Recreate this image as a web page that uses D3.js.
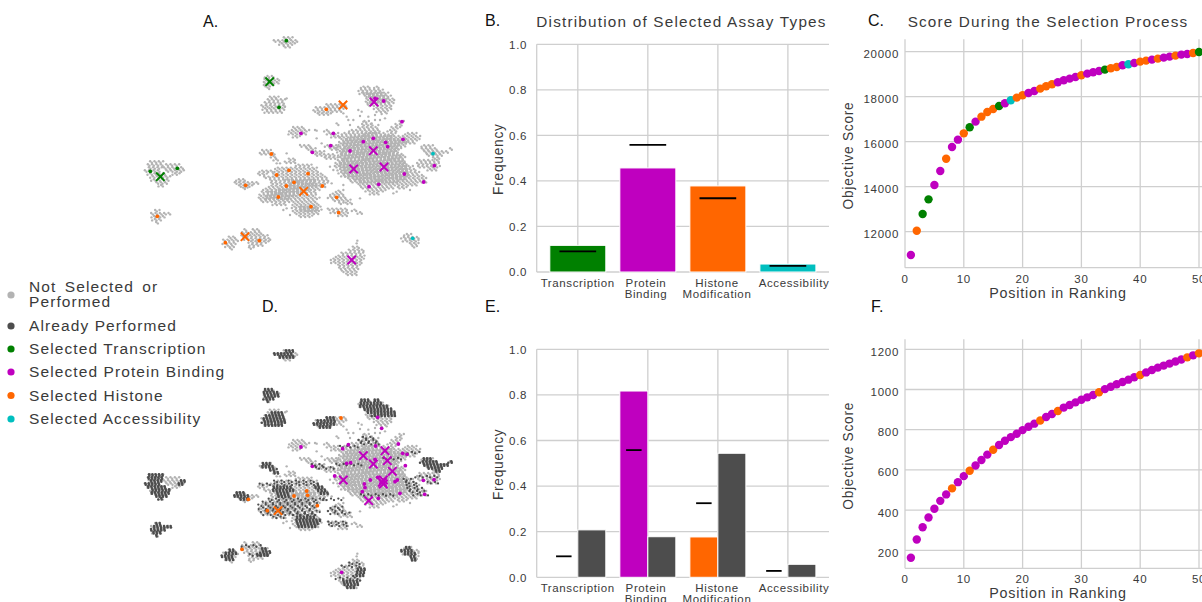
<!DOCTYPE html>
<html><head><meta charset="utf-8">
<script src="https://cdnjs.cloudflare.com/ajax/libs/d3/7.8.5/d3.min.js"></script>
<style>
html,body{margin:0;padding:0;background:#fff;overflow:hidden}
svg{display:block}
text{font-family:"Liberation Sans",Arial,sans-serif;fill:#3a3a3a}
</style></head><body>
<script>
// ---- bars ----
const categories = ["Transcription","Protein|Binding","Histone|Modification","Accessibility"];
const selectedB = [0.117,0.457,0.378,0.035];
const backgroundFreq = [0.091,0.558,0.324,0.027];
const selectedE = [0,0.817,0.177,0];
const performedE = [0.208,0.178,0.544,0.057];
const backgroundFreqE = [0.092,0.558,0.325,0.028];
// ---- score curves ----
const scoreC = [10963,12044,12785,13437,14074,14696,15244,15763,16089,16370,16637,16889,17111,17319,17452,17585,17704,17837,17956,18059,18163,18252,18356,18459,18548,18637,18726,18800,18874,18948,19022,19081,19141,19200,19259,19319,19393,19437,19496,19556,19600,19644,19689,19733,19778,19822,19867,19896,19941,19985];
const typeC = "PHTTPPHPPHTPHHHTPAHHPPHHHPPPPHPPPTHHPAPHHPHPPHPPHT".split("");
const scoreF = [163,254,315,363,407,446,478,508,539,569,596,622,649,676,700,724,745,763,780,798,815,830,846,863,878,893,910,923,936,949,961,973,986,1002,1014,1026,1037,1049,1061,1072,1085,1097,1109,1119,1129,1139,1149,1160,1170,1180];
const typeF = "PPPPPPPHPPHPPPHPPPPPPPHPPHPPPPPPHPPPPPPHPPPPPPPHPH".split("");
// ---- legend ----
const legendLabels = [["Not Selected or","Performed"],["Already Performed"],["Selected Transcription"],["Selected Protein Binding"],["Selected Histone"],["Selected Accessibility"]];
const typeColor = {G:"#b3b3b3",D:"#4d4d4d",T:"#008000",P:"#bf00bf",H:"#ff6600",A:"#00bfbf"};
const legendKeys = ["G","D","T","P","H","A"];
// ---- embedding: the clouds were read off the picture as horizontal spans,
// [row, from, to, from, to ...] in embedding units; dots mark the covered area.
const cloudRows = [
[84,465,490],[93,437,505],[102,450,498],[110,465,480],
[200,410,430],[209,403,447],[218,403,445],[227,405,430],[235,412,420],
[262,425,445],[270,415,465],[279,408,465],[288,400,465],[297,400,465],[306,408,460],
[285,590,650],[294,560,650],[303,555,640],[312,570,605],
[232,695,720,735,745],[241,690,760],[250,695,775],[259,705,785],[268,712,795],[277,712,795],[286,720,790],[295,735,785],[304,745,775],
[335,705,720,810,825],[344,700,730,800,815],[353,690,745,790,810],[362,660,750,775,805],[371,640,770,780,800,830,860],[380,635,870],[389,635,870],[398,630,860],[407,630,830],[416,625,815],[425,625,810],[434,630,820],[443,630,825],[452,625,830],[461,620,835],[470,620,850],[479,625,860],[488,630,870],[497,640,880],[506,655,890],[515,665,895],[524,690,860],[533,700,790,810,830],[542,710,770],[551,725,750],
[408,880,910],[417,875,925,960,970],[426,885,955],[435,895,940],[444,915,930],
[452,870,925],[461,865,930],[470,870,930],[479,895,925],
[353,495,525],[362,480,540],[371,480,530],[380,495,510],
[362,585,600],[371,595,625],[380,610,630],
[408,520,545,590,625],[417,530,560,600,625],[426,545,585],[435,560,620],[444,590,625],
[422,400,425],[431,395,435],[440,425,440],[449,435,445],
[448,480,495],[457,470,500],[466,500,545],[475,440,560],[484,395,430,440,570],[493,385,410,430,580],[502,405,590],[511,425,595],[520,430,595],[529,420,585],[538,405,570],[547,395,560],[556,390,560],[565,390,570],[574,400,560],[583,430,470,490,570],[592,490,575],[601,495,575],[610,495,570],[619,510,550],
[544,620,635],[553,605,645],[562,600,650],[571,610,665],[580,630,640,650,665],[598,600,650],[607,605,655],[616,630,655],
[601,672,685],[609,685,698],
[510,325,345],[519,315,385],[528,330,370],[535,345,355],
[456,60,100],[465,55,100,110,150],[474,60,95,105,165],[483,50,90,115,165],[492,55,110,130,150],[501,65,120],[510,70,120],[519,80,110],[527,90,100],
[602,80,90],[611,70,125],[620,68,110],[629,72,95],[638,78,85],
[682,300,315],[691,285,325],[700,280,320],[709,290,315],[716,300,308],
[660,345,355,370,390],[669,340,400],[678,340,415],[687,345,422],[696,360,415],[705,365,400],[714,358,370],
[674,825,845],[683,818,868],[692,825,868],[701,840,865],[710,850,862],
[712,670,690],[721,660,700],[730,640,700],[739,620,705],[748,607,705],[757,610,700],[766,625,690],[775,630,690],[784,640,685],[793,655,680]
];
// the dense middle of the main cloud
const coreRows = [
[371,700,740],[380,660,790],[389,650,830],[398,645,830],[407,645,810],[416,640,805],[425,640,800],[434,640,810],[443,640,815],[452,640,820],[461,635,825],[470,635,835],[479,640,835],[488,645,840],[497,660,840],[506,675,830],[515,690,810],
[268,725,775],[277,725,775],[259,715,770],[250,705,755],
[511,470,560],[520,480,560],[529,470,560],[538,450,540],[547,420,520],[556,410,500],[565,410,480],[592,510,560],[601,515,560]
];
const cloudStrays = [[560,362],[640,310],[650,320],[655,330],[625,345],[620,340],[685,300],[695,305],[715,320],[735,315],[750,330],[765,325],[770,310],[745,345],[725,340],[640,525],[640,540],[645,500],[610,480],[605,520],[600,470],[690,565],[790,550],[800,545],[840,540],[470,265],[465,290],[682,692],[560,600],[470,595],[460,600],[480,615],[555,360],[560,385],[575,400],[510,405],[470,430],[450,460],[440,460],[680,700],[660,345],[670,330],[690,318],[700,335],[755,312],[735,330]];
const performedRows = [
[84,465,490],[93,437,490],[102,450,490],
[200,410,430],[209,403,447],[218,403,445],[227,405,430],[235,412,420],
[270,430,460],[279,410,465],[288,400,465],[297,400,465],[306,408,460],
[285,590,615],[294,560,620],[303,555,615],[312,570,605],
[232,695,720,735,745],[241,690,760],[250,695,775],[259,705,785],[268,712,795],[277,730,795],
[456,60,100],[465,55,100],[474,60,95,150,165],[483,50,90,150,165],[492,55,110],[501,65,120],[510,70,120],[519,80,110],[527,90,100],
[602,80,90],[611,70,125],[620,68,110],[629,72,95],[638,78,85],
[682,300,315],[691,285,325],[700,280,310],[709,290,315],[678,395,415],[687,395,422],[696,385,415],
[674,825,845],[683,818,850],[692,825,855],[701,840,860],[710,850,862],
[739,685,705],[748,680,705],[757,675,700],[775,640,690],[784,640,685],[793,655,680],
[408,880,910],[417,875,925,960,970],[426,885,955],[435,895,940],[444,915,930],
[510,325,345],[519,315,360],[528,330,360],
[422,400,425],[431,395,435],[440,425,440],[449,435,445],
[583,505,560],[592,500,575],[601,500,570],[610,510,560],
[484,560,570],[493,560,580],[502,565,590],[511,570,595],
[493,435,490],[502,430,490],[511,440,480],[520,450,480]
];
const performedSpeckle = [
[475,440,560],[484,400,560],[529,420,585],[538,405,570],[547,395,560],[556,390,560],[565,400,570],[574,410,560],
[553,605,645],[562,600,650],[571,610,665],[598,600,650],[607,605,655],
[470,820,850],[479,830,860],[488,835,870],[497,840,880],[506,850,890],[515,855,895],
[344,700,730],[353,690,745],[362,700,750],[426,545,585],[435,560,620],[371,640,690],[389,840,870],[461,865,930],[479,895,925],[721,660,700],[730,640,700],[766,625,690],[696,360,415],[669,340,400],[583,430,470],[574,500,560],[529,585,640],[425,625,700],[516,700,790],[407,760,825]
];
// ---- picks: [u, v, type]
const picksA = [[469,92,"T"],[447,292,"T"],[61,484,"T"],[142,475,"T"],
[589,298,"H"],[424,432,"H"],[477,481,"H"],[534,491,"H"],[440,495,"H"],[492,517,"H"],[469,528,"H"],[577,528,"H"],[347,526,"H"],[445,561,"H"],[620,562,"H"],[543,590,"H"],[626,608,"H"],[82,619,"H"],[286,698,"H"],[388,692,"H"],
[761,273,"P"],[735,265,"P"],[816,335,"P"],[610,370,"P"],[513,370,"P"],[730,385,"P"],[700,395,"P"],[767,397,"P"],[819,388,"P"],[602,407,"P"],[773,410,"P"],[660,423,"P"],[547,427,"P"],[913,467,"P"],[823,492,"P"],[881,516,"P"],[746,523,"P"],[717,530,"P"],
[909,431,"A"],[848,685,"A"]];
const crossesA = [[419,215,"T"],[91,500,"T"],[639,285,"H"],[521,544,"H"],[345,680,"H"],[732,276,"P"],[730,422,"P"],[671,477,"P"],[762,471,"P"],[665,750,"P"]];
const picksD = [[633,285,"H"],[355,529,"H"],[412,563,"H"],[492,519,"H"],[530,504,"H"],[533,517,"H"],[562,548,"H"],[336,679,"H"],
[743,283,"P"],[755,316,"P"],[513,372,"P"],[547,430,"P"],[655,365,"P"],[638,377,"P"],[737,369,"P"],[805,363,"P"],[818,391,"P"],[831,394,"P"],[650,421,"P"],[662,419,"P"],[735,409,"P"],[826,428,"P"],[614,459,"P"],[721,471,"P"],[743,463,"P"],[703,483,"P"],[697,506,"P"],[705,494,"P"],[795,476,"P"],[802,471,"P"],[880,472,"P"],[912,470,"P"],[810,511,"P"],[884,514,"P"],[745,526,"P"],[635,748,"P"]];
const crossesD = [[444,563,"H"],[700,398,"P"],[765,383,"P"],[772,413,"P"],[730,423,"P"],[787,445,"P"],[640,471,"P"],[760,471,"P"],[760,483,"P"],[757,478,"P"],[716,533,"P"]];
const panelLetters = [["A.",203,27],["B.",485,26],["C.",868,26],["D.",262,312],["E.",485,312],["F.",871,312]];

const svg = d3.select("body").append("svg").attr("width",1202).attr("height",602);
svg.append("defs").append("filter").attr("id","soft").attr("x","-5%").attr("y","-5%").attr("width","110%").attr("height","110%")
  .append("feGaussianBlur").attr("stdDeviation",0.3);
const GRID="#cfcfcf";

// each read span is covered by two staggered dot rows
const spread=(rows,step)=>{const out=[];rows.forEach(r=>{[-2.2,2.2].forEach(dv=>{const v=r[0]+dv;
  const off=((r[0]*7+(dv>0?31:0))%step);
  for(let k=1;k<r.length;k+=2){
    for(const u of d3.range(r[k]+off-step/2,r[k+1]+1,step)) out.push([u,v]);}});});return out;};

function embedding(yRange,picks,crosses,showPerformed){
  const x=d3.scaleLinear().domain([0,1020]).range([130,470]);
  const y=d3.scaleLinear().domain([0,840]).range(yRange);
  const g=svg.append("g");
  const cloud=g.append("g").attr("filter","url(#soft)");
  const dots=(data,fill,r)=>cloud.append("g").selectAll("circle").data(data).join("circle")
    .attr("cx",d=>x(d[0])).attr("cy",d=>y(d[1])).attr("r",r).attr("fill",fill);
  dots(spread(cloudRows,13).concat(spread(coreRows,11)).concat(cloudStrays),typeColor.G,1.2);
  if(showPerformed){
    dots(spread(performedRows,10),typeColor.D,1.25);
    dots(spread(performedSpeckle,22),typeColor.D,1.15);
  }
  g.append("g").selectAll("circle").data(picks).join("circle")
    .attr("cx",d=>x(d[0])).attr("cy",d=>y(d[1])).attr("r",1.9).attr("fill",d=>typeColor[d[2]]);
  g.append("g").selectAll("path").data(crosses).join("path")
    .attr("d",d3.symbol(d3.symbolX,48)).attr("transform",d=>`translate(${x(d[0])},${y(d[1])})`)
    .attr("fill","none").attr("stroke",d=>typeColor[d[2]]).attr("stroke-width",2);
}
embedding([10,290],picksA,crossesA,false);
embedding([323,603],picksD,crossesD,true);

const labelX = [577.7,646,717,794];
function barPanel(yr,series){
  const x=d3.scaleLinear().domain([-0.587,3.587]).range([536.7,829]);
  const y=d3.scaleLinear().domain([0,1]).range(yr);
  const g=svg.append("g");
  const L=x.range();
  const t=[0,.2,.4,.6,.8,1];
  g.selectAll("line.h").data(t).join("line").attr("x1",L[0]).attr("x2",L[1])
    .attr("y1",y).attr("y2",y).attr("stroke",GRID).attr("stroke-width",1.3);
  g.selectAll("line.v").data(d3.range(4)).join("line").attr("x1",x).attr("x2",x)
    .attr("y1",yr[0]).attr("y2",yr[1]).attr("stroke",GRID).attr("stroke-width",1.3);
  g.append("line").attr("x1",L[0]).attr("x2",L[0]).attr("y1",yr[0]).attr("y2",yr[1]).attr("stroke",GRID).attr("stroke-width",1.3);
  g.selectAll("text.yt").data(t).join("text").attr("x",L[0]-9.5).attr("y",d=>y(d)+4.3)
    .attr("text-anchor","end").style("font-size","11.5px").style("letter-spacing","0.7px").text(d3.format(".1f"));
  series(g,x,y);
  categories.forEach((c,i)=>{
    c.split("|").forEach((t,j)=>g.append("text").attr("x",labelX[i]).attr("y",yr[0]+15+j*11)
      .attr("text-anchor","middle").style("font-size","11.5px").style("letter-spacing","0.62px").text(t));
  });
  g.append("text").attr("transform",`translate(503,${(yr[0]+yr[1])/2+1}) rotate(-90)`).attr("text-anchor","middle")
    .style("font-size","13.8px").style("letter-spacing","0.7px").text("Frequency");
}
const bar=(g,x,y,cx,w,v,fill)=>{ if(v<=0)return; g.append("rect").attr("x",cx-w/2).attr("width",w).attr("y",y(v)).attr("height",y(0)-y(v))
  .attr("fill",fill).attr("stroke","#fff").attr("stroke-width",1);};
const tick=(g,y,cx,w,v)=>g.append("line").attr("x1",cx-w/2).attr("x2",cx+w/2).attr("y1",y(v)).attr("y2",y(v)).attr("stroke","#000").attr("stroke-width",1.8);

barPanel([272,44.3],(g,x,y)=>{
  const keys=["T","P","H","A"];
  selectedB.forEach((v,i)=>bar(g,x,y,x(i),56,v,typeColor[keys[i]]));
  backgroundFreq.forEach((v,i)=>tick(g,y,x(i),36.7,v));
});
barPanel([577.3,349.3],(g,x,y)=>{
  const keys=["T","P","H","A"];
  selectedE.forEach((v,i)=>bar(g,x,y,x(i)-14,28,v,typeColor[keys[i]]));
  performedE.forEach((v,i)=>bar(g,x,y,x(i)+14,28,v,typeColor.D));
  backgroundFreqE.forEach((v,i)=>tick(g,y,x(i)-14,15.5,v));
});

function scorePanel(scores,types,domain,yr,yt){
  const x=d3.scaleLinear().domain([0,50]).range([905,1199]);
  const y=d3.scaleLinear().domain(domain).range(yr);
  const g=svg.append("g");
  g.selectAll("line.h").data(yt).join("line").attr("x1",905).attr("x2",1202).attr("y1",y).attr("y2",y).attr("stroke",GRID).attr("stroke-width",1.3);
  g.selectAll("line.v").data(d3.range(0,51,10)).join("line").attr("x1",x).attr("x2",x).attr("y1",yr[0]).attr("y2",yr[1]).attr("stroke",GRID).attr("stroke-width",1.3);
  g.append("line").attr("x1",905).attr("x2",1202).attr("y1",yr[0]).attr("y2",yr[0]).attr("stroke",GRID).attr("stroke-width",1.3);
  g.selectAll("text.yt").data(yt).join("text").attr("x",899).attr("y",d=>y(d)+6.6).attr("text-anchor","end")
    .style("font-size","11.5px").style("letter-spacing","0.7px").text(d=>d);
  g.selectAll("text.xt").data(d3.range(0,51,10)).join("text").attr("x",x).attr("y",yr[0]+15).attr("text-anchor","middle")
    .style("font-size","11.5px").style("letter-spacing","0.7px").text(d=>d);
  g.selectAll("circle").data(scores).join("circle").attr("cx",(d,i)=>x(i+1)).attr("cy",y).attr("r",4.2)
    .attr("fill",(d,i)=>typeColor[types[i]]);
  g.append("text").attr("x",1058).attr("y",yr[0]+30).attr("text-anchor","middle").style("font-size","14.3px").style("letter-spacing","0.8px").text("Position in Ranking");
  g.append("text").attr("transform",`translate(853,${(yr[0]+yr[1])/2+2}) rotate(-90)`).attr("text-anchor","middle")
    .style("font-size","13.8px").style("letter-spacing","0.7px").text("Objective Score");
}
scorePanel(scoreC,typeC,[10400,20548],[267.7,39.3],[12000,14000,16000,18000,20000]);
scorePanel(scoreF,typeF,[110.4,1249.8],[568.3,339.3],[200,400,600,800,1000,1200]);

// titles
svg.append("text").attr("x",681.5).attr("y",27).attr("text-anchor","middle").style("font-size","15.3px").style("letter-spacing","1.2px").text("Distribution of Selected Assay Types");
svg.append("text").attr("x",1048).attr("y",27).attr("text-anchor","middle").style("font-size","15.3px").style("letter-spacing","1.15px").text("Score During the Selection Process");
svg.selectAll("text.pl").data(panelLetters).join("text").attr("x",d=>d[1]).attr("y",d=>d[2]).style("font-size","16px").style("fill","#111").text(d=>d[0]);

// legend
const legendDotY=[295,326,349,372,395.5,419];
const legendTextY=[[291.5,307],[331],[354],[377],[401],[424]];
const lg=svg.append("g");
legendLabels.forEach((lines,i)=>{
  lg.append("circle").attr("cx",11).attr("cy",legendDotY[i]).attr("r",3.6).attr("fill",typeColor[legendKeys[i]]);
  lines.forEach((t,j)=>lg.append("text").attr("x",29).attr("y",legendTextY[i][j]).style("font-size","15.5px").style("letter-spacing","1.1px").style("word-spacing",i==0&&j==0?"3px":"0").text(t));
});
</script>
</body></html>
